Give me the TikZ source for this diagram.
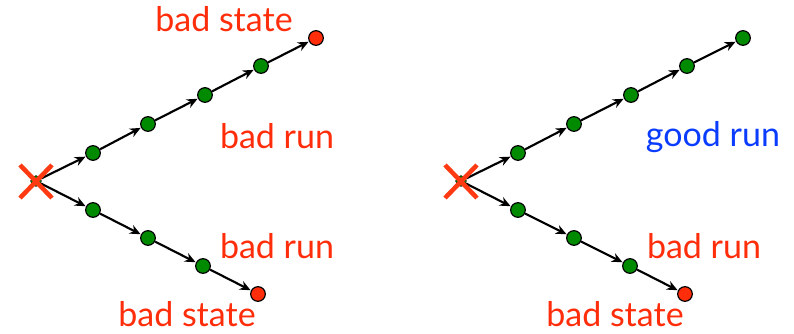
\documentclass[tikz,border=0pt]{standalone}
\usepackage{fontspec}
\setmainfont{Lato}
\usetikzlibrary{arrows.meta}
\definecolor{badred}{HTML}{FF2D0A}
\definecolor{goodblue}{HTML}{0A3CFF}
\definecolor{stgreen}{HTML}{008A00}
\definecolor{xred}{HTML}{FF3A12}
\tikzset{
  st/.style={circle,draw=black,line width=0.9pt,fill=stgreen,minimum size=11pt,inner sep=0pt},
  bad/.style={st,fill=badred},
  startpt/.style={circle,fill=stgreen,draw=black,minimum size=8pt,inner sep=0pt},
  tr/.style={-{Stealth[length=8pt,width=7pt]},line width=1.6pt,shorten >=0.3pt},
  lbl/.style={font=\fontsize{25.5}{28}\selectfont,inner sep=0pt},
  xmark/.style={xred,line width=3.4pt}
}
\begin{document}
\begin{tikzpicture}[x=0.75pt,y=-0.75pt]
\useasboundingbox (0,0) rectangle (794,333);
% left diagram
\node[startpt] (s) at (36,181) {};
\node[st] (u1) at (93,153) {};
\node[st] (u2) at (148,124) {};
\node[st] (u3) at (205,95) {};
\node[st] (u4) at (261,66) {};
\node[bad] (u5) at (316,38) {};
\node[st] (l1) at (93,210) {};
\node[st] (l2) at (148,238) {};
\node[st] (l3) at (203,266) {};
\node[bad] (l4) at (258,294) {};
\draw[tr] (s) -- (u1);
\draw[tr] (u1) -- (u2);
\draw[tr] (u2) -- (u3);
\draw[tr] (u3) -- (u4);
\draw[tr] (u4) -- (u5);
\draw[tr] (s) -- (l1);
\draw[tr] (l1) -- (l2);
\draw[tr] (l2) -- (l3);
\draw[tr] (l3) -- (l4);
\draw[xmark] (20,165) -- (52,198) (52,165) -- (20,198);
\node[lbl,text=badred] (t1) at (224,19) {bad state};
\node[lbl,text=badred] (t2) at (277,136) {bad run};
\node[lbl,text=badred] (t3) at (277,246) {bad run};
\node[lbl,text=badred] (t4) at (187,314) {bad state};
% right diagram
\node[startpt] (rs) at (461,181) {};
\node[st] (ru1) at (518,153) {};
\node[st] (ru2) at (574,124) {};
\node[st] (ru3) at (631,95) {};
\node[st] (ru4) at (687,66) {};
\node[st] (ru5) at (743,38) {};
\node[st] (rl1) at (518,210) {};
\node[st] (rl2) at (574,238) {};
\node[st] (rl3) at (630,266) {};
\node[bad] (rl4) at (685,294) {};
\draw[tr] (rs) -- (ru1);
\draw[tr] (ru1) -- (ru2);
\draw[tr] (ru2) -- (ru3);
\draw[tr] (ru3) -- (ru4);
\draw[tr] (ru4) -- (ru5);
\draw[tr] (rs) -- (rl1);
\draw[tr] (rl1) -- (rl2);
\draw[tr] (rl2) -- (rl3);
\draw[tr] (rl3) -- (rl4);
\draw[xmark] (445,165) -- (477,198) (477,165) -- (445,198);
\node[lbl,text=goodblue] (t5) at (713,137) {good run};
\node[lbl,text=badred] (t6) at (704,246) {bad run};
\node[lbl,text=badred] (t7) at (615,314) {bad state};
\end{tikzpicture}
\end{document}
